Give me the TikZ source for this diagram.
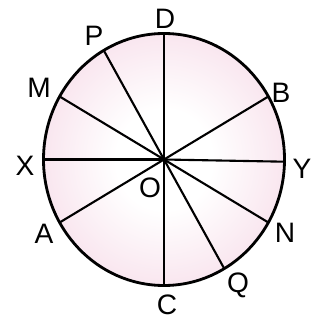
\documentclass[tikz,border=0pt]{standalone}
\usepackage{fontspec}
\setmainfont{Liberation Sans}
\usetikzlibrary{calc}
\definecolor{crim}{HTML}{F9E6EF}
\def\cx{164}
\def\cy{159.5}
\def\rx{120.5}
\def\ry{126}
\pgfdeclareradialshading{rimtint}{\pgfpoint{0bp}{0bp}}%
  {color(0bp)=(white); color(10bp)=(white); color(25bp)=(crim); color(50bp)=(crim)}

\begin{document}
\begin{tikzpicture}[x=0.025cm, y=-0.025cm, line cap=round, line join=round,
                    font=\fontsize{20}{24}\selectfont,
                    lbl/.style={inner sep=0pt}]
\useasboundingbox (0,0) rectangle (321,320);

% =================== disc ===================
\coordinate (O) at (\cx,\cy);
\shade[shading=rimtint] (O) ellipse [x radius=\rx, y radius=\ry];

% =================== radii to the rim ===================
\foreach \nm/\ang in {D/90,P/120,M/150,X/180,A/210,C/270,Q/300,N/330,Y/-1,B/30}{
  \coordinate (\nm) at ({\cx+\rx*cos(\ang)},{\cy-\ry*sin(\ang)});
  \draw[line width=1.5pt] (O) -- (\nm);
}
\draw[line width=2pt] (O) ellipse [x radius=\rx, y radius=\ry];

% =================== labels ===================
\foreach \nm/\px/\py in {D/165/18.5,P/94/36,M/39/88,X/25/166,A/44/234,
                         C/167/305,Q/238/285,N/285/233,Y/302/169,B/281/93}{
  \node[lbl] (l\nm) at (\px,\py) {\nm};
}
\node[lbl] (lO) at (150,188) {O};

\end{tikzpicture}
\end{document}
